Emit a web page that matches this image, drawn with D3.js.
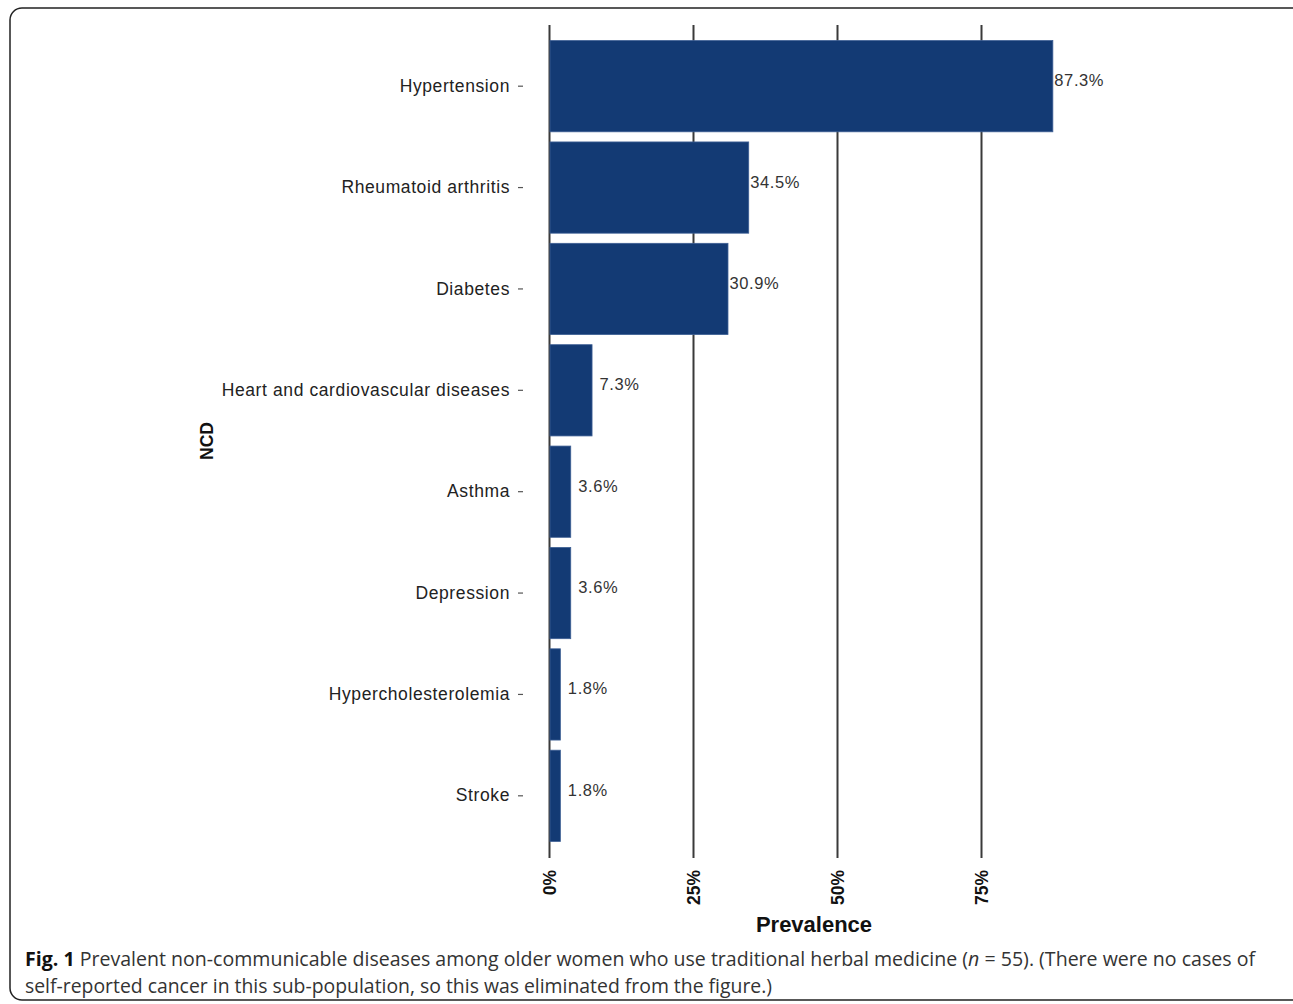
<!DOCTYPE html>
<head>
    <title>Prevalent NCDs</title>
    <meta charset="utf-8">
    <style>
        body { margin: 0; background: #fff; }
        .tick text { font-family: "Liberation Sans", Arial, sans-serif; }
    </style>
</head>

<body>
    <div id="chart"></div>

    <script src="https://d3js.org/d3.v7.min.js"></script>
    <script>
        // data
        var diseases = ["Hypertension", "Rheumatoid arthritis", "Diabetes",
            "Heart and cardiovascular diseases", "Asthma", "Depression",
            "Hypercholesterolemia", "Stroke"];
        var prevalence = [87.3, 34.5, 30.9, 7.3, 3.6, 3.6, 1.8, 1.8];
        var xTicks = [0, 25, 50, 75];

        var data = diseases.map(function(d, i) { return { ncd: d, value: prevalence[i] }; });

        var W = 1293, H = 1004;
        var svg = d3.select("#chart").append("svg")
            .attr("width", W)
            .attr("height", H);

        // figure frame
        svg.append("rect")
            .attr("x", 10).attr("y", 8)
            .attr("width", 1310).attr("height", 992)
            .attr("rx", 12)
            .attr("fill", "none")
            .attr("stroke", "#222")
            .attr("stroke-width", 1.5);

        var xScale = d3.scaleLinear()
            .domain([0, 25])
            .range([549.5, 693.5]);

        var yScale = d3.scaleBand()
            .domain(diseases)
            .range([35.5, 846.5])
            .paddingInner(0.1)
            .paddingOuter(0.05);

        var gridTop = 25, gridBottom = 858;

        // vertical grid lines
        svg.append("g")
            .selectAll("line")
            .data(xTicks)
            .enter()
            .append("line")
            .attr("x1", d => xScale(d))
            .attr("x2", d => xScale(d))
            .attr("y1", gridTop)
            .attr("y2", gridBottom)
            .attr("stroke", "#3a3a3a")
            .attr("stroke-width", 2);

        // bars
        svg.append("g")
            .selectAll("rect")
            .data(data)
            .enter()
            .append("rect")
            .attr("x", xScale(0) + 0.5)
            .attr("y", d => yScale(d.ncd))
            .attr("width", d => xScale(d.value) - xScale(0))
            .attr("height", yScale.bandwidth())
            .attr("fill", "#133a74")
            .attr("stroke", "#3d5f94")
            .attr("stroke-width", 0.8);

        // value labels
        svg.append("g")
            .selectAll("text")
            .data(data)
            .enter()
            .append("text")
            .attr("x", d => xScale(d.value) + (d.value > 20 ? 2 : 8))
            .attr("y", d => yScale(d.ncd) + yScale.bandwidth() / 2)
            .attr("dy", "0.0em")
            .style("font-family", "Liberation Sans, Arial, sans-serif")
            .style("font-size", "16.5px")
            .style("letter-spacing", "0.6px")
            .style("fill", "#333")
            .text(d => d.value.toFixed(1) + "%");

        // y axis (category labels)
        var yAxis = svg.append("g")
            .attr("transform", "translate(523,0)")
            .call(d3.axisLeft(yScale).tickSize(5).tickPadding(8));
        yAxis.select(".domain").remove();
        yAxis.selectAll(".tick line").attr("stroke", "#555").attr("stroke-width", 1.2);
        yAxis.selectAll(".tick text")
            .style("font-size", "17.5px")
            .style("letter-spacing", "0.6px")
            .style("fill", "#222");

        // x tick labels, rotated
        svg.append("g")
            .selectAll("text")
            .data(xTicks)
            .enter()
            .append("text")
            .attr("transform", d => "translate(" + (xScale(d) + 6) + ",870) rotate(-90)")
            .attr("text-anchor", "end")
            .style("font-family", "Liberation Sans, Arial, sans-serif")
            .style("font-weight", "bold")
            .style("font-size", "17.5px")
            .style("fill", "#111")
            .text(d => d + "%");

        // axis titles
        svg.append("text")
            .attr("x", 814)
            .attr("y", 932)
            .attr("text-anchor", "middle")
            .style("font-family", "Liberation Sans, Arial, sans-serif")
            .style("font-weight", "bold")
            .style("font-size", "22px")
            .style("fill", "#111")
            .text("Prevalence");

        svg.append("text")
            .attr("transform", "translate(213,441) rotate(-90)")
            .attr("text-anchor", "middle")
            .style("font-family", "Liberation Sans, Arial, sans-serif")
            .style("font-weight", "bold")
            .style("font-size", "17.5px")
            .style("fill", "#111")
            .text("NCD");

        // caption
        var caption = svg.append("g")
            .style("font-family", "Open Sans, sans-serif")
            .style("font-size", "19.5px")
            .style("fill", "#333");

        var line1 = caption.append("text")
            .attr("x", 25)
            .attr("y", 966);
        line1.append("tspan").style("font-weight", "bold").style("fill", "#111").text("Fig. 1");
        line1.append("tspan").text(" Prevalent non-communicable diseases among older women who use traditional herbal medicine (");
        line1.append("tspan").style("font-style", "italic").text("n");
        line1.append("tspan").text(" = 55). (There were no cases of");

        var line2 = caption.append("text")
            .attr("x", 25)
            .attr("y", 993)
            .text("self-reported cancer in this sub-population, so this was eliminated from the figure.)");

        // fit caption lines to the widths in the figure
        line1.attr("textLength", 1230).attr("lengthAdjust", "spacingAndGlyphs");
        line2.attr("textLength", 747).attr("lengthAdjust", "spacingAndGlyphs");
    </script>

</body>
</html>
